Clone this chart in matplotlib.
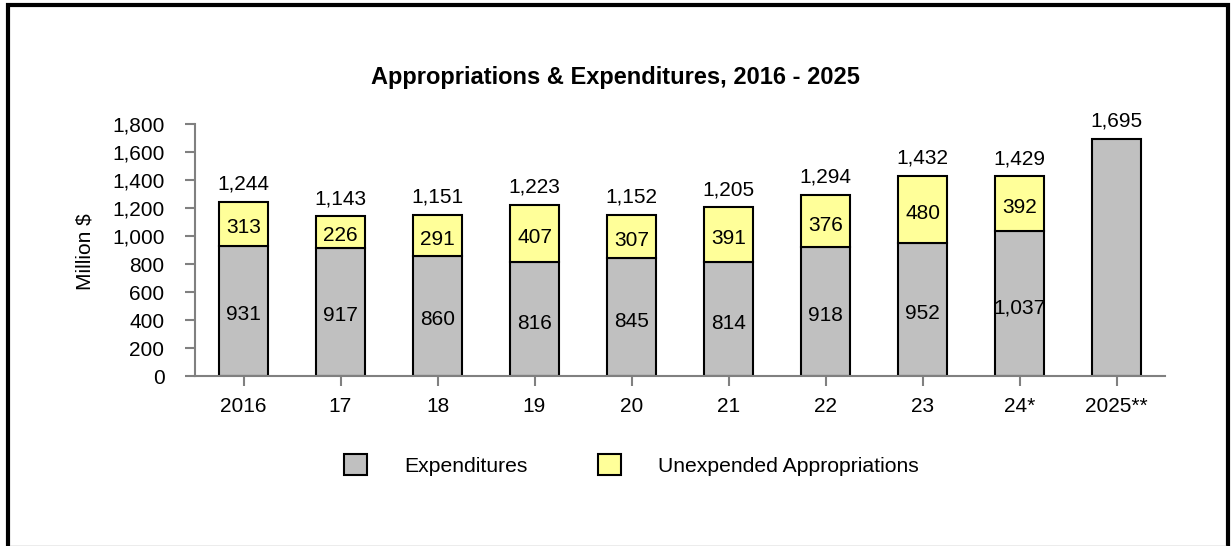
import matplotlib.pyplot as plt
from matplotlib.patches import Rectangle, Patch
from matplotlib.lines import Line2D

plt.rcParams['font.family'] = ['Liberation Sans', 'DejaVu Sans']

# data
years = ['2016', '17', '18', '19', '20', '21', '22', '23', '24*', '2025**']
expenditures = [931, 917, 860, 816, 845, 814, 918, 952, 1037, 1695]
unexpended = [313, 226, 291, 407, 307, 391, 376, 480, 392]
totals = [1244, 1143, 1151, 1223, 1152, 1205, 1294, 1432, 1429, 1695]

GRAY = '#C0C0C0'
YELLOW = '#FFFF99'
AXIS = '#808080'
FS = 15

W, H = 1231, 546
fig = plt.figure(figsize=(W / 100, H / 100), dpi=100)
ax = fig.add_axes([195 / W, 1 - 376 / H, 970 / W, 252 / H])

x = list(range(len(years)))
ax.bar(x, expenditures, width=0.5, color=GRAY, edgecolor='black', linewidth=1.5, zorder=2)
ax.bar(x[:len(unexpended)], unexpended, width=0.5, bottom=expenditures[:len(unexpended)],
       color=YELLOW, edgecolor='black', linewidth=1.5, zorder=2)

# labels inside segments
for i, v in enumerate(expenditures[:len(unexpended)]):
    ax.annotate(f'{v:,}', (i, v / 2), xytext=(0, -3), textcoords='offset points',
                ha='center', va='center', fontsize=FS)
for i, v in enumerate(unexpended):
    ax.annotate(f'{v:,}', (i, expenditures[i] + v / 2), xytext=(0, -3), textcoords='offset points',
                ha='center', va='center', fontsize=FS)
# totals above bars
for i, t in enumerate(totals):
    top = expenditures[i] + (unexpended[i] if i < len(unexpended) else 0)
    ax.annotate(f'{t:,}', (i, top), xytext=(0, 12.5), textcoords='offset points',
                ha='center', va='center', fontsize=FS, annotation_clip=False)

ax.set_xlim(-0.5, len(years) - 0.5)
ax.set_ylim(0, 1800)
ax.set_yticks(range(0, 1801, 200))
ax.set_yticklabels([f'{v:,}' for v in range(0, 1801, 200)])
ax.set_xticks(x)
ax.set_xticklabels(years)
ax.tick_params(axis='y', length=7, width=1.5, color=AXIS, pad=15, labelsize=FS)
ax.tick_params(axis='x', length=7, width=1.5, color=AXIS, pad=8, labelsize=FS)
for s in ['top', 'right']:
    ax.spines[s].set_visible(False)
for s in ['left', 'bottom']:
    ax.spines[s].set_color(AXIS)
    ax.spines[s].set_linewidth(1.5)

fig.text(85 / W, 1 - 252 / H, 'Million $', rotation=90, ha='center', va='center', fontsize=FS)
fig.text(615 / W, 1 - 78 / H, 'Appropriations & Expenditures, 2016 - 2025',
         ha='center', va='center', fontsize=17, fontweight='bold')

handles = [Patch(facecolor=GRAY, edgecolor='black', linewidth=1.5, label='Expenditures'),
           Patch(facecolor=YELLOW, edgecolor='black', linewidth=1.5, label='Unexpended Appropriations')]
fig.legend(handles=handles, loc='center left', bbox_to_anchor=(344 / W, 1 - 465 / H),
           ncol=2, frameon=False, fontsize=15.2, handlelength=1.09, handleheight=1.15,
           handletextpad=1.75, columnspacing=3.36, borderpad=0, borderaxespad=0)

# outer frame
fig.add_artist(Rectangle((8 / W, -0.1), 1220 / W, 0.1 + 541 / H, transform=fig.transFigure,
                         fill=False, edgecolor='black', linewidth=3))
fig.add_artist(Line2D([10 / W, 1226 / W], [0.5 / H, 0.5 / H], transform=fig.transFigure,
                      color='#A0A0A0', linewidth=1))

fig.savefig('out.png', dpi=100)
